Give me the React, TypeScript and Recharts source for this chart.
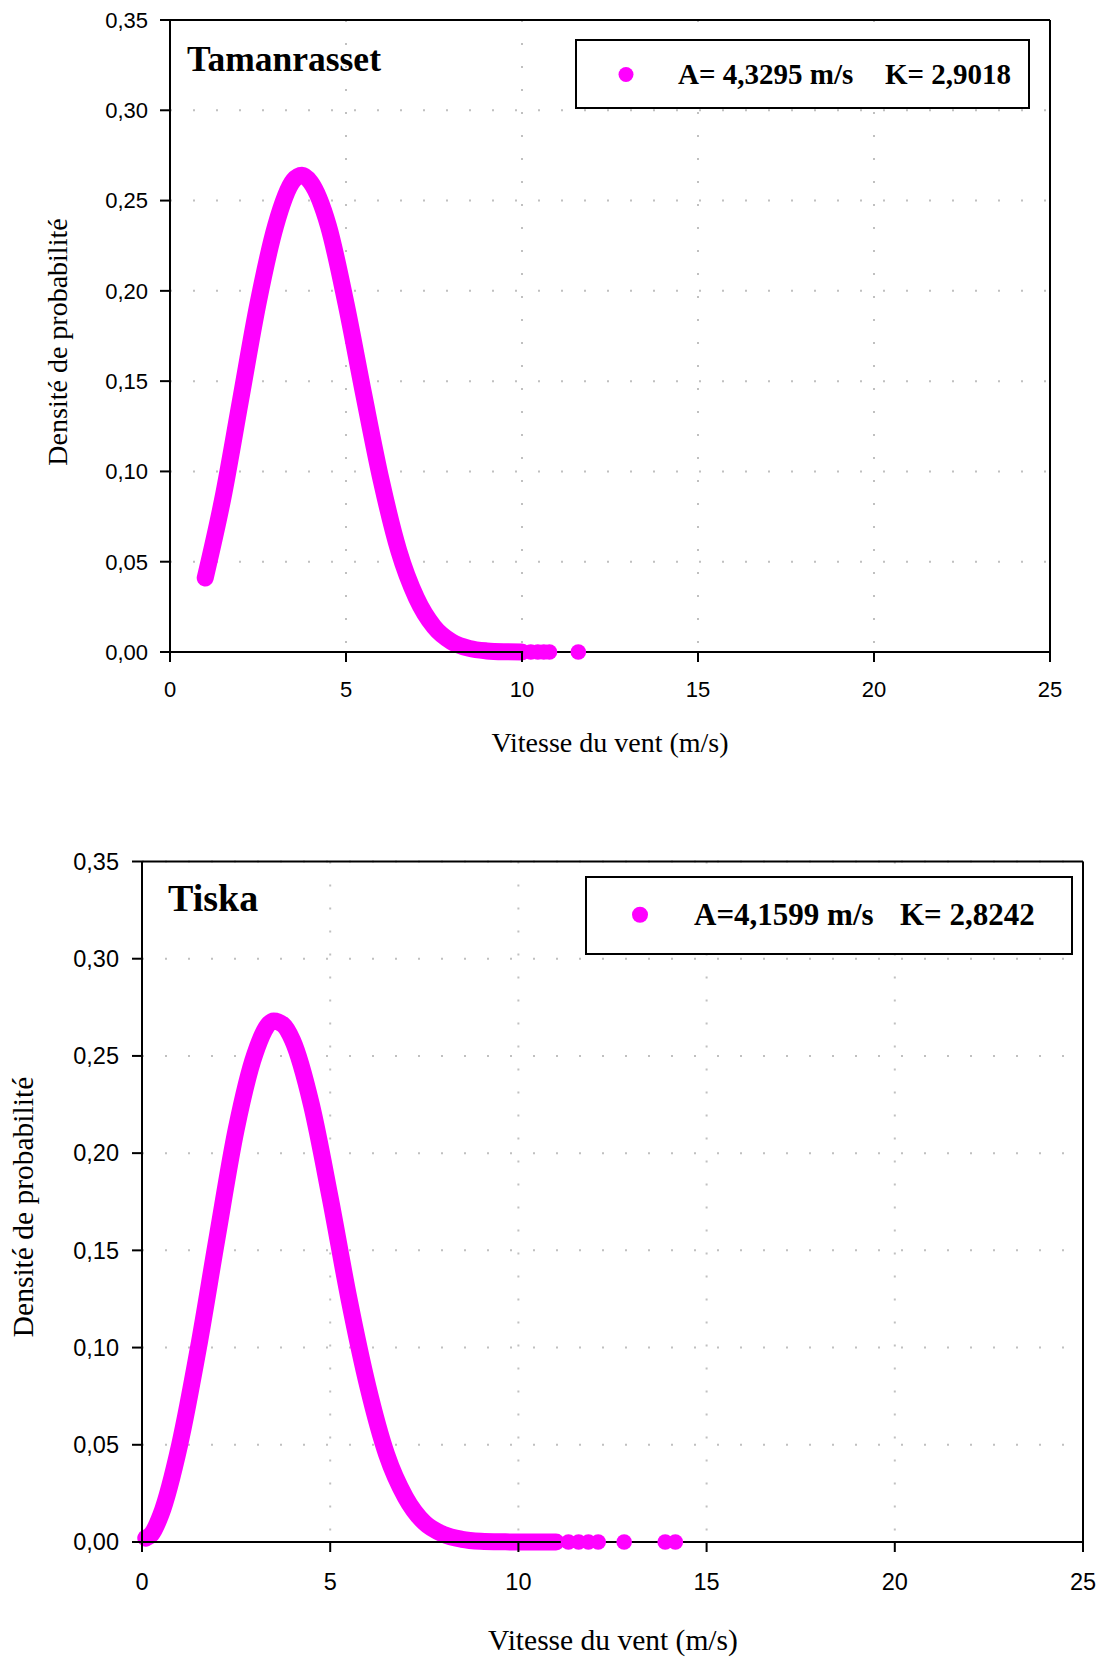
import React from 'react';
import {
  ComposedChart,
  Line,
  XAxis,
  YAxis,
  CartesianGrid,
  ReferenceLine,
  Legend,
  Customized,
} from 'recharts';

const MAGENTA = '#ff00ff';
const SANS = '"Liberation Sans", Arial, sans-serif';
const SERIF = '"Liberation Serif", "Times New Roman", serif';

const xTicks = [0, 5, 10, 15, 20, 25];
const yTicks = [0, 0.05, 0.1, 0.15, 0.2, 0.25, 0.3, 0.35];

// Tamanrasset (A = 4,3295 m/s, K = 2,9018)
const tamSpeed = [1.0, 1.5, 2.0, 2.5, 3.0, 3.5, 3.75, 4.0, 4.5, 5.0, 5.5, 6.0, 6.5, 7.0, 7.5, 8.0, 8.5, 9.0, 9.5, 10.0];
const tamDensity = [0.041, 0.085, 0.139, 0.193, 0.236, 0.261, 0.264, 0.26, 0.236, 0.193, 0.143, 0.095, 0.056, 0.03, 0.014, 0.0057, 0.002, 0.0006, 0.00015, 0.00003];
const tamTailSpeed = [10.25, 10.45, 10.62, 10.78, 11.6];
const tamTailDensity = [0, 0, 0, 0, 0];

// Tiska (A = 4,1599 m/s, K = 2,8242)
const tiskaSpeed = [0.1, 0.25, 0.5, 1.0, 1.5, 2.0, 2.5, 3.0, 3.5, 3.75, 4.0, 4.5, 5.0, 5.5, 6.0, 6.5, 7.0, 7.5, 8.0, 8.5, 9.0, 9.5, 10.0, 10.5, 11.0];
const tiskaDensity = [0.002, 0.004, 0.014, 0.05, 0.1, 0.157, 0.212, 0.251, 0.268, 0.266, 0.258, 0.225, 0.177, 0.125, 0.08, 0.045, 0.023, 0.01, 0.004, 0.0014, 0.0004, 0.0001, 0.00003, 0, 0];
const tiskaTailSpeed = [11.33, 11.6, 11.86, 12.12, 12.81, 13.9, 14.17];
const tiskaTailDensity = [0, 0, 0, 0, 0, 0, 0];

const zip = (xs: number[], ys: number[]) => xs.map((x, i) => ({ x, y: ys[i] }));

const fmt = (v: number) => v.toFixed(2).replace('.', ',');

type PanelProps = {
  station: string;
  legendA: string;
  legendK: string;
  curve: { x: number; y: number }[];
  tail: { x: number; y: number }[];
  height: number;
  margin: { top: number; right: number; bottom: number; left: number };
  yAxisWidth: number;
  tickFont: number;
  yTickMargin: number;
  xTickMargin: number;
  labelFont: number;
  titleFont: number;
  title: { x: number; y: number };
  xLabel: { x: number; y: number };
  yLabel: { x: number; y: number };
  legend: { left: number; top: number; width: number; height: number; dotX: number; aX: number; kX: number; baseline: number; font: number; r: number };
};

function Panel(p: PanelProps) {
  const lg = p.legend;
  const Texts = () => (
    <g>
      <text x={p.title.x} y={p.title.y} fontFamily={SERIF} fontWeight="bold" fontSize={p.titleFont} fill="#000">
        {p.station}
      </text>
      <text x={p.xLabel.x} y={p.xLabel.y} textAnchor="middle" fontFamily={SERIF} fontSize={p.labelFont} fill="#000">
        Vitesse du vent (m/s)
      </text>
      <text
        x={p.yLabel.x}
        y={p.yLabel.y}
        textAnchor="middle"
        transform={`rotate(-90, ${p.yLabel.x}, ${p.yLabel.y})`}
        fontFamily={SERIF}
        fontSize={p.labelFont}
        fill="#000"
      >
        Densité de probabilité
      </text>
    </g>
  );
  const legendContent = () => (
    <svg width={lg.width} height={lg.height} style={{ display: 'block' }}>
      <rect x={1} y={1} width={lg.width - 2} height={lg.height - 2} fill="#fff" stroke="#000" strokeWidth={2} />
      <circle cx={lg.dotX} cy={lg.baseline - lg.font * 0.33} r={lg.r} fill={MAGENTA} />
      <text x={lg.aX} y={lg.baseline} fontFamily={SERIF} fontWeight="bold" fontSize={lg.font} fill="#000">
        {p.legendA}
      </text>
      <text x={lg.kX} y={lg.baseline} fontFamily={SERIF} fontWeight="bold" fontSize={lg.font} fill="#000">
        {p.legendK}
      </text>
    </svg>
  );

  return (
    <ComposedChart width={1105} height={p.height} margin={p.margin}>
      <CartesianGrid stroke="#c0c0c0" strokeWidth={2} strokeDasharray="2 21" />
      <XAxis
        type="number"
        dataKey="x"
        domain={[0, 25]}
        ticks={xTicks}
        interval={0}
        height={40}
        tickSize={10}
        tickMargin={p.xTickMargin}
        axisLine={{ stroke: '#000', strokeWidth: 2 }}
        tickLine={{ stroke: '#000', strokeWidth: 2 }}
        tick={{ fill: '#000', fontSize: p.tickFont, fontFamily: SANS }}
      />
      <YAxis
        type="number"
        dataKey="y"
        domain={[0, 0.35]}
        ticks={yTicks}
        interval={0}
        width={p.yAxisWidth}
        tickSize={10}
        tickMargin={p.yTickMargin}
        tickFormatter={fmt}
        axisLine={{ stroke: '#000', strokeWidth: 2 }}
        tickLine={{ stroke: '#000', strokeWidth: 2 }}
        tick={{ fill: '#000', fontSize: p.tickFont, fontFamily: SANS }}
      />
      <ReferenceLine y={0.35} stroke="#000" strokeWidth={2} />
      <ReferenceLine x={25} stroke="#000" strokeWidth={2} />
      <Line
        data={p.curve}
        dataKey="y"
        type="monotone"
        stroke={MAGENTA}
        strokeWidth={17}
        strokeLinecap="round"
        strokeLinejoin="round"
        dot={false}
        activeDot={false}
        isAnimationActive={false}
        legendType="circle"
      />
      <Line
        data={p.tail}
        dataKey="y"
        stroke="none"
        dot={{ r: 7.8, fill: MAGENTA, stroke: 'none' }}
        activeDot={false}
        isAnimationActive={false}
        legendType="none"
      />
      <Legend
        layout="vertical"
        align="center"
        verticalAlign="middle"
        content={legendContent}
        wrapperStyle={{ left: lg.left, top: lg.top, width: lg.width, height: lg.height, margin: 0 }}
      />
      <Customized component={<Texts />} />
    </ComposedChart>
  );
}

export default function App() {
  return (
    <div style={{ position: 'absolute', left: 0, top: 0, width: 1105, height: 1659, background: '#fff' }}>
      <div style={{ position: 'absolute', left: 0, top: 0 }}>
        <Panel
          station="Tamanrasset"
          legendA="A= 4,3295 m/s"
          legendK="K= 2,9018"
          curve={zip(tamSpeed, tamDensity)}
          tail={zip(tamTailSpeed, tamTailDensity)}
          height={790}
          margin={{ top: 20, right: 55, bottom: 98, left: 0 }}
          yAxisWidth={170}
          tickFont={22}
          yTickMargin={12}
          xTickMargin={19}
          labelFont={28}
          titleFont={35.5}
          title={{ x: 187, y: 71 }}
          xLabel={{ x: 610, y: 752 }}
          yLabel={{ x: 67, y: 342 }}
          legend={{ left: 575, top: 39, width: 455, height: 70, dotX: 51, aX: 103, kX: 310, baseline: 45, font: 29, r: 7.5 }}
        />
      </div>
      <div style={{ position: 'absolute', left: 0, top: 790 }}>
        <Panel
          station="Tiska"
          legendA="A=4,1599 m/s"
          legendK="K= 2,8242"
          curve={zip(tiskaSpeed, tiskaDensity)}
          tail={zip(tiskaTailSpeed, tiskaTailDensity)}
          height={869}
          margin={{ top: 71.5, right: 22, bottom: 77, left: 0 }}
          yAxisWidth={142}
          tickFont={23.5}
          yTickMargin={13}
          xTickMargin={21}
          labelFont={29.5}
          titleFont={38}
          title={{ x: 168, y: 121 }}
          xLabel={{ x: 613, y: 860 }}
          yLabel={{ x: 33, y: 417 }}
          legend={{ left: 585, top: 86, width: 488, height: 79, dotX: 55, aX: 109, kX: 315, baseline: 49, font: 31, r: 8 }}
        />
      </div>
    </div>
  );
}
